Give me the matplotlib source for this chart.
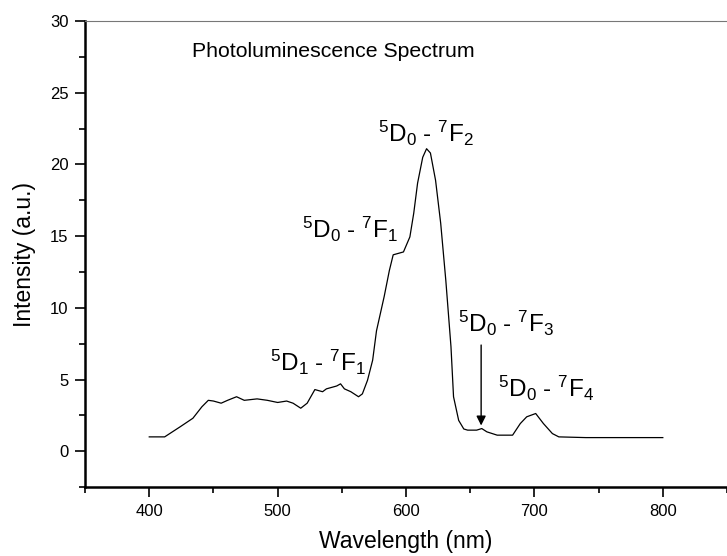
import matplotlib.pyplot as plt
from matplotlib.ticker import MultipleLocator

plt.rcParams['font.family'] = ['Liberation Sans', 'DejaVu Sans']
plt.rcParams['mathtext.fontset'] = 'custom'
plt.rcParams['mathtext.rm'] = 'Liberation Sans'
plt.rcParams['mathtext.it'] = 'Liberation Sans'

# spectrum
wavelength = [400, 412, 424, 434, 441, 446, 450, 456, 461, 468, 474, 484, 492, 500,
              507, 512, 518, 523, 529, 535, 538, 544, 546, 549, 552, 557, 563, 566,
              570, 574, 577, 583, 587, 590, 594, 598, 603, 606, 609, 613, 616, 619,
              623, 627, 631, 635, 637, 641, 645, 648, 655, 659, 663, 671, 683, 689,
              694, 701, 707, 714, 719, 740, 760, 780, 800]
intensity = [1.0, 1.0, 1.7, 2.3, 3.1, 3.55, 3.5, 3.35, 3.55, 3.8, 3.55, 3.65, 3.55, 3.4,
             3.5, 3.35, 3.0, 3.35, 4.3, 4.15, 4.35, 4.5, 4.55, 4.7, 4.35, 4.15, 3.8, 4.0,
             4.95, 6.35, 8.4, 10.8, 12.6, 13.7, 13.8, 13.9, 14.95, 16.6, 18.7, 20.5, 21.1, 20.8,
             18.9, 15.9, 11.9, 7.3, 3.8, 2.15, 1.55, 1.47, 1.47, 1.58, 1.35, 1.12, 1.12, 1.93,
             2.4, 2.63, 1.93, 1.23, 1.0, 0.95, 0.95, 0.95, 0.95]

labels = [r'$^5$D$_0$ - $^7$F$_2$', r'$^5$D$_0$ - $^7$F$_1$', r'$^5$D$_1$ - $^7$F$_1$',
          r'$^5$D$_0$ - $^7$F$_3$', r'$^5$D$_0$ - $^7$F$_4$']
label_x = [615.5, 556.5, 531.5, 678, 709]
label_y = [21.6, 14.85, 5.6, 8.33, 3.8]

fig = plt.figure(figsize=(7.27, 5.56), dpi=100)
ax = fig.add_axes([0.117, 0.124, 0.883, 0.838])

ax.plot(wavelength, intensity, color='black', lw=0.9)

for t, x, y in zip(labels, label_x, label_y):
    ax.text(x, y, t, fontsize=17.5, ha='center', va='baseline')

ax.annotate('', xy=(658.5, 1.6), xytext=(658.5, 7.6),
            arrowprops=dict(arrowstyle='-|>', color='black', lw=1.0, mutation_scale=14))

ax.text(543, 27.9, 'Photoluminescence Spectrum', fontsize=15.3, ha='center', va='center')

ax.set_xlim(350, 850)
ax.set_ylim(-2.5, 30)
ax.xaxis.set_major_locator(MultipleLocator(100))
ax.xaxis.set_minor_locator(MultipleLocator(50))
ax.yaxis.set_major_locator(MultipleLocator(5))
ax.yaxis.set_minor_locator(MultipleLocator(2.5))
ax.set_xticks([400, 500, 600, 700, 800])
ax.tick_params(which='major', direction='out', length=7, width=1.2, labelsize=12, pad=5)
ax.tick_params(which='minor', direction='out', length=4, width=1.2)
ax.tick_params(top=False, right=False, which='both')

ax.spines['right'].set_visible(False)
ax.spines['top'].set_color('#777777')
ax.spines['top'].set_linewidth(0.8)
ax.spines['left'].set_linewidth(1.8)
ax.spines['bottom'].set_linewidth(1.8)

ax.set_xlabel('Wavelength (nm)', fontsize=16.5, labelpad=8)
ax.set_ylabel('Intensity (a.u.)', fontsize=16.5, labelpad=10)

fig.savefig('out.png', dpi=100)
